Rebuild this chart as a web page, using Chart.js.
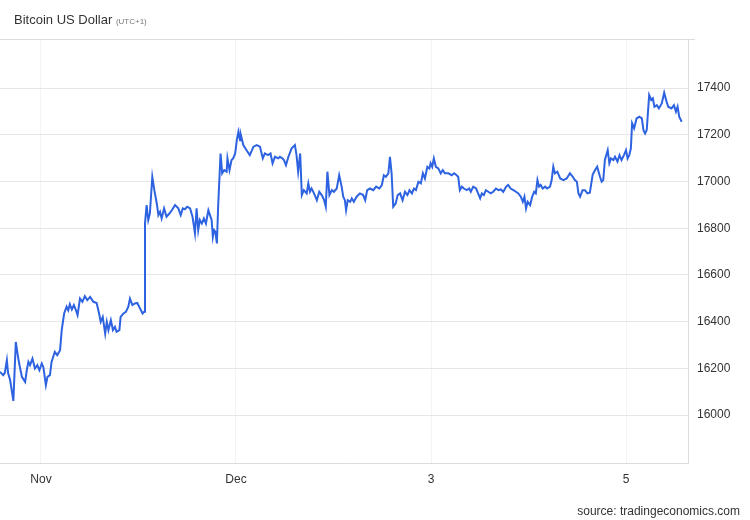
<!DOCTYPE html>
<html>
<head>
<meta charset="utf-8">
<script src="https://cdn.jsdelivr.net/npm/chart.js@4/dist/chart.umd.min.js"></script>
<style>
	body { margin: 0; background: #fff; font-family: "Liberation Sans", Arial, sans-serif; }
	#wrap { position: relative; width: 750px; height: 520px; }
	#title { position: absolute; left: 14px; top: 12px; font-size: 13px; color: #333; }
	#title span { font-size: 8px; color: #777; }
	#source { position: absolute; right: 10px; top: 504px; font-size: 12px; color: #333; }
	canvas { position: absolute; left: 0; top: 0; }
</style>
</head>
<body>
<div id="wrap">
	<canvas id="grafik-btc" width="750" height="520"></canvas>
	<div id="title">Bitcoin US Dollar <span>(UTC+1)</span></div>
	<div id="source">source: tradingeconomics.com</div>
</div>
<script>
// hours since Nov 28 00:00
const hours = [
	13.9,14.7,15.1,15.6,15.9,16.4,17.2,17.8,18.4,18.8,19.3,20.1,20.5,20.9,21.3,21.9,22.5,23.1,23.6,24.2,
	24.6,25.2,25.6,26.2,26.6,27.4,28.0,28.7,29.1,29.7,30.3,30.7,31.1,31.6,32.1,32.6,33.0,33.6,34.2,34.8,
	35.4,36.1,36.9,37.7,38.3,38.7,39.2,39.8,40.2,40.6,41.2,41.7,42.2,42.6,43.3,43.6,44.3,44.9,45.5,45.9,
	46.5,47.1,47.7,48.4,49.0,49.4,49.6,50.0,50.4,50.8,51.4,51.9,52.5,52.9,53.3,53.7,54.3,54.9,55.6,56.2,
	57.0,57.8,58.4,58.9,59.4,60.0,60.7,61.3,61.9,62.3,62.7,63.1,63.6,64.1,64.6,65.2,65.6,66.0,66.3,66.6,
	66.9,67.3,67.6,68.2,68.6,69.1,69.7,69.9,70.4,70.9,71.3,71.8,72.2,72.6,73.0,73.2,73.8,74.6,75.4,76.3,
	77.1,77.9,78.6,79.1,79.9,80.5,81.0,81.6,82.4,82.8,83.4,83.8,84.3,84.9,85.7,86.5,86.9,87.3,87.8,88.2,
	88.7,89.4,89.8,90.2,90.6,91.2,91.9,92.5,93.1,93.7,94.1,94.5,95.0,95.6,96.1,96.8,97.4,98.0,98.4,98.8,
	99.1,99.5,100.1,100.5,101.0,101.7,102.5,103.3,103.8,104.3,105.0,105.8,106.5,107.3,107.9,108.4,108.9,109.5,109.9,110.3,
	110.7,111.3,111.8,112.4,113.0,113.6,114.2,114.7,115.3,115.8,116.3,116.9,117.5,118.0,118.5,119.1,119.6,119.9,120.3,120.7,
	121.2,121.8,122.4,122.9,123.4,124.3,125.1,125.7,126.3,126.7,127.1,127.6,128.1,128.8,129.4,129.8,130.4,131.1,131.6,132.1,
	132.5,133.0,133.5,134.1,134.7,135.3,136.0,136.6,137.2,137.8,138.5,139.0,139.6,140.3,140.9,141.5,142.1,142.6,143.0,143.4,
	143.8,144.4,144.9,145.4,145.8,146.2,146.6,147.0,147.5,148.1,148.6,149.3,149.7,150.1,150.5,151.1,151.8,152.6,153.4,154.2,
	154.9,155.4,155.9,156.3,156.7,157.3,157.9,158.5,159.1,159.8,160.4,160.9,161.6,162.0,162.4,162.8,163.5,163.9,164.3,164.9,
	165.3,165.9,166.4,166.9,167.5,168.0,168.4,168.8,169.2,169.5,170.0,170.6,171.3,171.9,172.3,172.7,173.1,173.7,174.2,174.6,
	175.0,175.6,176.1,176.8,177.4,178.0,178.4,179.2,179.8,180.3,180.7,181.1,181.7
];
const prices = [
	16185,16171,16181,16235,16180,16150,16061,16313,16243,16206,16164,16142,16192,16228,16214,16242,16200,16214,16192,16221,
	16204,16128,16164,16171,16228,16271,16257,16278,16364,16435,16464,16449,16475,16452,16471,16449,16428,16499,16485,16509,
	16492,16506,16485,16480,16435,16399,16420,16349,16399,16364,16406,16364,16378,16357,16364,16420,16435,16442,16464,16499,
	16471,16478,16480,16456,16435,16442,16820,16899,16835,16863,17020,16963,16906,16856,16870,16842,16885,16849,16863,16877,
	16899,16885,16856,16885,16881,16892,16885,16849,16778,16885,16792,16835,16820,16842,16820,16877,16856,16835,16763,16792,
	16785,16735,16892,17120,17035,17049,17042,17099,17049,17092,17099,17120,17177,17213,17177,17199,17156,17134,17113,17149,
	17156,17149,17099,17120,17113,17120,17078,17106,17099,17106,17099,17092,17070,17106,17142,17156,17113,17042,17120,16942,
	16963,16949,16992,16956,16970,16949,16920,16956,16942,16920,16892,17042,16942,16963,16956,16970,17027,16978,16935,16920,
	16877,16920,16913,16928,16913,16935,16949,16942,16920,16963,16970,16963,16978,16970,16985,17027,17020,17035,17106,17035,
	16892,16906,16942,16949,16920,16956,16942,16963,16949,16970,16963,16999,16992,17035,17013,17063,17056,17078,17063,17099,
	17063,17056,17035,17049,17035,17035,17027,17035,17027,17020,16963,16978,16970,16963,16970,16956,16978,16970,16949,16928,
	16949,16942,16963,16956,16949,16956,16970,16963,16966,16956,16978,16985,16970,16963,16956,16949,16935,16913,16935,16885,
	16913,16899,16935,16956,16949,17006,16978,16985,16970,16978,16970,16978,17006,17063,17035,17042,17013,17006,17013,17035,
	17020,17006,16999,16949,16935,16963,16963,16949,16952,17030,17049,17063,17020,16999,17006,17092,17134,17078,17099,17092,
	17106,17085,17113,17092,17113,17134,17099,17113,17142,17249,17228,17270,17277,17270,17220,17206,17220,17370,17349,17356,
	17320,17327,17313,17334,17380,17341,17320,17313,17327,17299,17320,17277,17256
];
const xTickHours = [24, 72, 120, 168];
const xTickLabels = ['Nov', 'Dec', '3', '5'];
const yTicks = [16000, 16200, 16400, 16600, 16800, 17000, 17200, 17400];

const topLine = {
	id: 'topLine',
	afterDraw(chart) {
		const c = chart.ctx, a = chart.chartArea;
		c.save();
		c.strokeStyle = '#dcdcdc';
		c.lineWidth = 1;
		c.beginPath();
		c.moveTo(0, a.top + 0.5);
		c.lineTo(a.right + 7, a.top + 0.5);
		c.stroke();
		c.restore();
	}
};

make_chart = () => {
	const ctx = document.getElementById('grafik-btc');
	new Chart(ctx, {
		type: 'line',
		data: {
			datasets: [{
				label: 'Bitcoin US Dollar',
				data: hours.map((h, i) => ({ x: h, y: prices[i] })),
				borderColor: '#2d62e0',
				borderWidth: 2,
				pointRadius: 0,
				tension: 0,
				fill: false
			}]
		},
		plugins: [topLine],
		options: {
			responsive: false,
			animation: false,
			layout: { padding: { top: 39, left: 0, right: 0, bottom: 0 } },
			plugins: { legend: { display: false }, tooltip: { enabled: false } },
			scales: {
				x: {
					type: 'linear',
					min: 13.91,
					max: 183.26,
					afterFit: (s) => { s.height = 57; },
					afterBuildTicks: (s) => { s.ticks = xTickHours.map(v => ({ value: v })); },
					ticks: {
						callback: (v) => xTickLabels[xTickHours.indexOf(v)],
						color: '#333',
						font: { family: 'Liberation Sans', size: 12 },
						padding: 9,
						maxRotation: 0
					},
					grid: { color: '#f3f3f3', drawTicks: false },
					border: { color: '#dcdcdc' }
				},
				y: {
					position: 'right',
					min: 15795,
					max: 17610,
					afterFit: (s) => { s.width = 62; },
					afterBuildTicks: (s) => { s.ticks = yTicks.map(v => ({ value: v })); },
					ticks: {
						callback: (v) => String(v),
						color: '#333',
						font: { family: 'Liberation Sans', size: 12 },
						padding: 9
					},
					grid: { color: '#e6e6e6', drawTicks: false },
					border: { color: '#dcdcdc' }
				}
			}
		}
	});
}
make_chart();
</script>
</body>
</html>
